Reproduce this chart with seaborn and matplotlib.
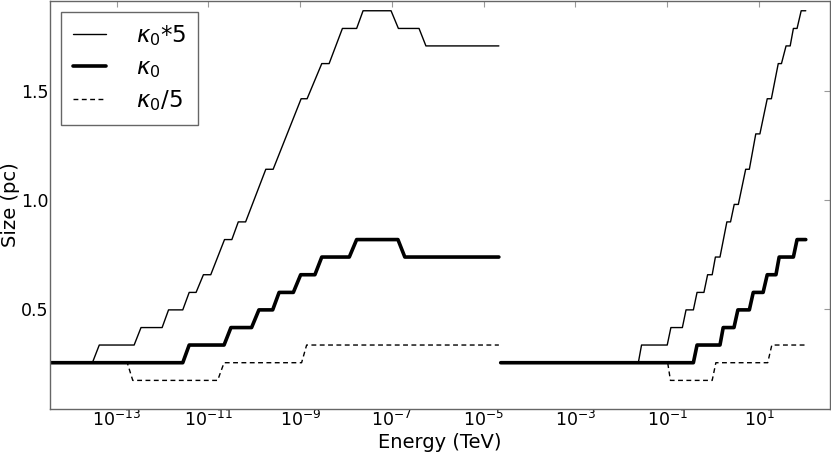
import numpy as np
import matplotlib
matplotlib.use("Agg")
import matplotlib.pyplot as plt
import seaborn as sns
import pandas as pd
from matplotlib.ticker import FixedLocator, NullLocator

# log10(Energy / TeV) at each corner of the curves
# left block (low-energy run)
left_k5_logE = [-14.45, -13.53, -13.38, -12.62, -12.47, -12.01, -11.87, -11.56, -11.42, -11.27,
                -11.11, -10.95, -10.65, -10.49, -10.35, -10.19, -9.75, -9.59, -8.98, -8.85,
                -8.53, -8.37, -8.08, -7.77, -7.63, -7.02, -6.86, -6.41, -6.26, -4.67]
left_k5_size = [0.256, 0.256, 0.337, 0.337, 0.417, 0.417, 0.498, 0.498, 0.578, 0.578,
                0.659, 0.659, 0.820, 0.820, 0.901, 0.901, 1.142, 1.142, 1.465, 1.465,
                1.626, 1.626, 1.787, 1.787, 1.868, 1.868, 1.787, 1.787, 1.707, 1.707]

left_k0_logE = [-14.45, -11.56, -11.42, -10.66, -10.51, -10.06, -9.90, -9.60, -9.46,
                -9.15, -8.99, -8.68, -8.53, -7.93, -7.77, -6.87, -6.72, -4.67]
left_k0_size = [0.256, 0.256, 0.337, 0.337, 0.417, 0.417, 0.498, 0.498, 0.578,
                0.578, 0.659, 0.659, 0.740, 0.740, 0.820, 0.820, 0.740, 0.740]

left_kd5_logE = [-14.45, -12.77, -12.65, -10.80, -10.66, -8.97, -8.86, -4.67]
left_kd5_size = [0.256, 0.256, 0.175, 0.175, 0.256, 0.256, 0.337, 0.337]

# right block (high-energy run)
right_k5_logE = [-3.34, -1.63, -1.56, -1.00, -0.92, -0.67, -0.59, -0.43, -0.35, -0.20,
                 -0.12, -0.02, 0.05, 0.15, 0.30, 0.38, 0.46, 0.55, 0.71, 0.79,
                 0.93, 1.02, 1.18, 1.27, 1.42, 1.49, 1.59, 1.68, 1.75, 1.83, 1.92, 2.02]
right_k5_size = [0.256, 0.256, 0.337, 0.337, 0.417, 0.417, 0.498, 0.498, 0.578, 0.578,
                 0.659, 0.659, 0.740, 0.740, 0.901, 0.901, 0.981, 0.981, 1.142, 1.142,
                 1.304, 1.304, 1.465, 1.465, 1.626, 1.626, 1.707, 1.707, 1.787, 1.787, 1.868, 1.868]

right_k0_logE = [-4.63, -0.43, -0.35, 0.15, 0.22, 0.455, 0.54, 0.79, 0.875,
                 1.09, 1.18, 1.37, 1.44, 1.75, 1.83, 2.02]
right_k0_size = [0.256, 0.256, 0.337, 0.337, 0.417, 0.417, 0.498, 0.498, 0.578,
                 0.578, 0.659, 0.659, 0.740, 0.740, 0.820, 0.820]

right_kd5_logE = [-3.34, -0.99, -0.93, -0.02, 0.06, 1.19, 1.28, 2.02]
right_kd5_size = [0.256, 0.256, 0.175, 0.175, 0.256, 0.256, 0.337, 0.337]

labels = [r'$\kappa_0$*5', r'$\kappa_0$', r'$\kappa_0$/5']
xtick_exps = [-13, -11, -9, -7, -5, -3, -1, 1]
ytick_vals = [0.5, 1.0, 1.5]

sns.set_style('white')
plt.rcParams['font.family'] = ['DejaVu Sans']
plt.rcParams['axes.unicode_minus'] = False
plt.rcParams['mathtext.fontset'] = 'dejavusans'
plt.rcParams['text.color'] = 'black'
plt.rcParams['axes.labelcolor'] = 'black'
plt.rcParams['xtick.labelcolor'] = 'black'
plt.rcParams['ytick.labelcolor'] = 'black'

fig = plt.figure(figsize=(8.31, 4.54), dpi=100)
ax = fig.add_axes([50 / 831, 45 / 454, 780 / 831, 408.5 / 454])

styles = [dict(lw=1.0, ls='-'), dict(lw=2.6, ls='-'), dict(lw=1.0, ls=(0, (3.5, 2.5)))]
curves = [
    [(left_k5_logE, left_k5_size), (right_k5_logE, right_k5_size)],
    [(left_k0_logE, left_k0_size), (right_k0_logE, right_k0_size)],
    [(left_kd5_logE, left_kd5_size), (right_kd5_logE, right_kd5_size)],
]

for label, style, segs in zip(labels, styles, curves):
    for i, (lx, sz) in enumerate(segs):
        df = pd.DataFrame({'energy': 10.0 ** np.array(lx), 'size': sz})
        sns.lineplot(data=df, x='energy', y='size', ax=ax, sort=False, estimator=None,
                     color='black', linewidth=style['lw'], linestyle=style['ls'],
                     label=label if i == 0 else None, legend=False)

ax.set_xscale('log')
ax.set_xlim(10 ** -14.454, 10 ** 2.548)
ax.set_ylim(0.044, 1.915)
ax.xaxis.set_major_locator(FixedLocator([10.0 ** e for e in xtick_exps]))
ax.xaxis.set_minor_locator(NullLocator())
ax.set_yticks(ytick_vals)
ax.set_yticklabels([f'{v:.1f}' for v in ytick_vals])

ax.tick_params(direction='in', length=4, width=0.8, color='#999999',
               labelcolor='black', top=True, right=True, pad=1.0)
ax.tick_params(axis='y', labelsize=12.5)
ax.tick_params(axis='x', labelsize=12.5)
for sp in ax.spines.values():
    sp.set_color('#666666')
    sp.set_linewidth(1.0)

ax.set_xlabel('Energy (TeV)', fontsize=14, labelpad=1.5, color='black')
ax.set_ylabel('Size (pc)', fontsize=14, labelpad=1, color='black')

leg = ax.legend(loc='upper left', fontsize=16.5, handlelength=1.45, handletextpad=1.3,
                borderpad=0.5, labelspacing=0.35, borderaxespad=0.5, fancybox=False,
                framealpha=1, edgecolor='#666666', labelcolor='black')
leg.get_frame().set_linewidth(1.0)

fig.savefig('out.png', dpi=100)
